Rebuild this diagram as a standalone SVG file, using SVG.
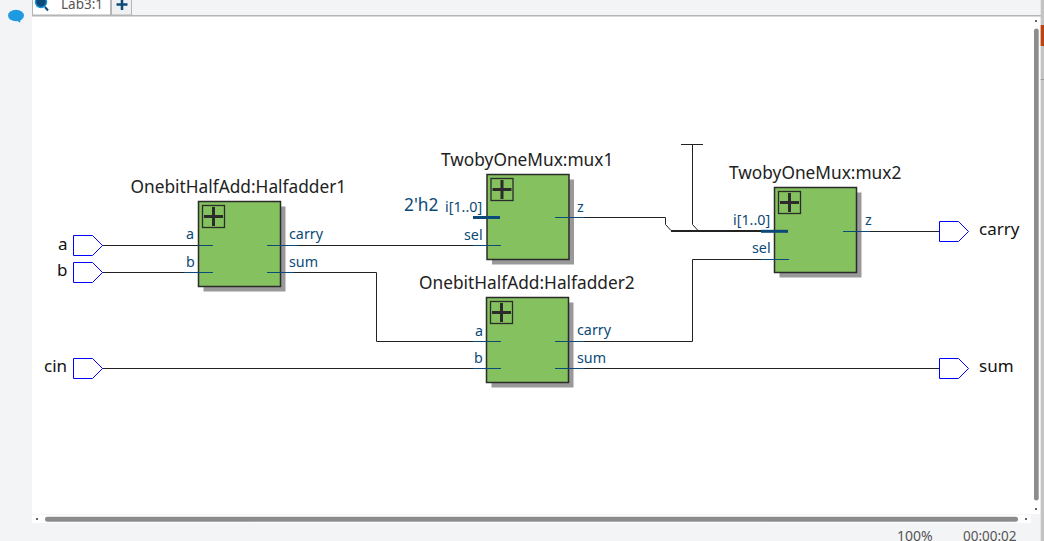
<svg xmlns="http://www.w3.org/2000/svg" width="1044" height="541" viewBox="0 0 1044 541">
<style>
text{font-family:"Noto Sans","DejaVu Sans",sans-serif}
.title{font-size:17.3px;fill:#222}
.port{font-size:14.3px;fill:#0b4a78}
.io{font-size:17px;fill:#111}
.ui{font-size:13.5px;fill:#555}
.body{fill:#85c15f;stroke:#2b2b2b;stroke-width:1.5}
.shadow{fill:#999}
.icon{fill:none;stroke:#2b2b2b;stroke-width:1.3}
.plus{fill:none;stroke:#2b2b2b;stroke-width:3}
.stub{stroke:#0b4a78;stroke-width:1;fill:none}
.bus{stroke:#0b4a78;stroke-width:3;fill:none}
.wire{stroke:#222;stroke-width:1;fill:none}
.busw{stroke:#222;stroke-width:2;fill:none}
.pin{fill:#fff;stroke:#00f;stroke-width:1}
</style>
<defs>
<g id="blk">
<rect class="shadow" x="5" y="5" width="82" height="85"/>
<rect class="body" x="0" y="0" width="82" height="85"/>
<rect class="icon" x="4" y="4" width="22" height="22"/>
<path class="plus" d="M5.500 15H24.500M15 5.500V24.500"/>
</g>
</defs>
<rect width="1044" height="541" fill="#f3f4f6"/>
<g id="canvas">
<rect x="32" y="16" width="1008.500" height="498" fill="#fff"/>
<rect x="32" y="515" width="999" height="8" fill="#fff"/>
<rect x="32" y="15" width="1009" height="1.500" fill="#b5b5b5"/>
<rect x="32.500" y="-2" width="78" height="17" fill="#fff" stroke="#b5b5b5"/>
<rect x="111.500" y="-2" width="20" height="17" fill="#eef0f2" stroke="#b5b5b5"/>
<path d="M122 -1V10M116.500 4.500H127.500" stroke="#0b4a78" stroke-width="2.500" fill="none"/>
<circle cx="41" cy="2" r="5.500" fill="#0b4a78" stroke="#1a8ed0" stroke-width="1.500"/>
<path d="M45 7L48 10.500" stroke="#0b4a78" stroke-width="2" fill="none"/>
<text class="ui" x="61" y="9">Lab3:1</text>
<ellipse cx="16" cy="15.500" rx="8" ry="5.700" fill="#1e9be0"/>
<path d="M16 20L20 22.800L21 18Z" fill="#1e9be0"/>
<rect x="1034" y="28.500" width="4.700" height="472" rx="2.300" fill="#8c8c8c"/>
<rect x="45" y="516.800" width="973" height="5" rx="2.300" fill="#8c8c8c"/>
<rect x="1040.700" y="0" width="3.300" height="541" fill="#c4c4c4"/>
<rect x="1040.700" y="25" width="3.300" height="21" fill="#c0430f"/>
<rect x="1040.700" y="79" width="3.300" height="1" fill="#999"/>
<rect x="1035" y="20" width="2" height="2" fill="#666"/>
<rect x="36" y="518" width="2" height="2" fill="#666"/>
<rect x="1025" y="518" width="2" height="2" fill="#666"/>
<rect x="1035" y="508" width="2" height="2" fill="#666"/>
<text class="ui" x="897" y="541" style="font-size:14px">100%</text>
<text class="ui" x="963" y="541">00:00:02</text>
</g>
<g id="connectors">
<path class="wire" d="M102 245.500H198M102 272.500H198M280 245.500H487M280 272.500H376.500V341.500H487"/>
<path class="wire" d="M102 368.500H487M568 368.500H940"/>
<path class="wire" d="M568 217.500H665.500V224.500L671 230.500M692.500 144.500V224.500L698 230.500M681 144.500H703"/>
<path class="busw" d="M671 231H762"/>
<path class="wire" d="M568 341.500H692.500V259.500H775"/>
<path class="wire" d="M856 231.500H940"/>
</g>
<g id="Halfadder1">
<use href="#blk" x="198.500" y="201.500"/>
<text class="title" x="130.500" y="193">OnebitHalfAdd:Halfadder1</text>
<path class="stub" d="M198 245.500H213M184 272.500H213M267 245.500H298M267 272.500H294"/>
<text class="port" x="186" y="239">a</text>
<text class="port" x="186" y="267">b</text>
<text class="port" x="289" y="239">carry</text>
<text class="port" x="289" y="267">sum</text>
</g>
<g id="mux1">
<use href="#blk" x="487" y="174.500"/>
<text class="title" x="441" y="166">TwobyOneMux:mux1</text>
<path class="bus" d="M473 217.500H500"/>
<path class="stub" d="M473 245.500H501M555 217.500H584"/>
<text class="port" x="445" y="212">i[1..0]</text>
<text class="port" x="464" y="240">sel</text>
<text class="port" x="577" y="212">z</text>
<text x="404" y="211" style="font-size:17.300px;fill:#0b4a78">2'h2</text>
</g>
<g id="Halfadder2">
<use href="#blk" x="486.500" y="297.500"/>
<text class="title" x="419" y="289">OnebitHalfAdd:Halfadder2</text>
<path class="stub" d="M473 341.500H501M473 368.500H501M555 341.500H584M555 368.500H584"/>
<text class="port" x="475" y="336">a</text>
<text class="port" x="474" y="363">b</text>
<text class="port" x="577" y="335">carry</text>
<text class="port" x="577" y="363">sum</text>
</g>
<g id="mux2">
<use href="#blk" x="774.500" y="187.500"/>
<text class="title" x="729" y="179">TwobyOneMux:mux2</text>
<path class="bus" d="M761 231.300H788"/>
<path class="stub" d="M761 259.500H789M843 231.500H870"/>
<text class="port" x="733" y="225">i[1..0]</text>
<text class="port" x="752" y="253">sel</text>
<text class="port" x="865" y="225">z</text>
</g>
<g id="pin_a"><path class="pin" d="M73.500 235.500H92.500L102.500 245.500L92.500 255.500H73.500Z"/><text class="io" x="58" y="250">a</text></g>
<g id="pin_b"><path class="pin" d="M73.500 262.500H92.500L102.500 272.500L92.500 282.500H73.500Z"/><text class="io" x="57" y="276">b</text></g>
<g id="pin_cin"><path class="pin" d="M73.500 358.500H92.500L102.500 368.500L92.500 378.500H73.500Z"/><text class="io" x="44" y="372">cin</text></g>
<g id="pin_carry"><path class="pin" d="M939.500 221.500H958.500L968.500 231.500L958.500 241.500H939.500Z"/><text class="io" x="979" y="235">carry</text></g>
<g id="pin_sum"><path class="pin" d="M939.500 358.500H958.500L968.500 368.500L958.500 378.500H939.500Z"/><text class="io" x="979" y="372">sum</text></g>
</svg>
